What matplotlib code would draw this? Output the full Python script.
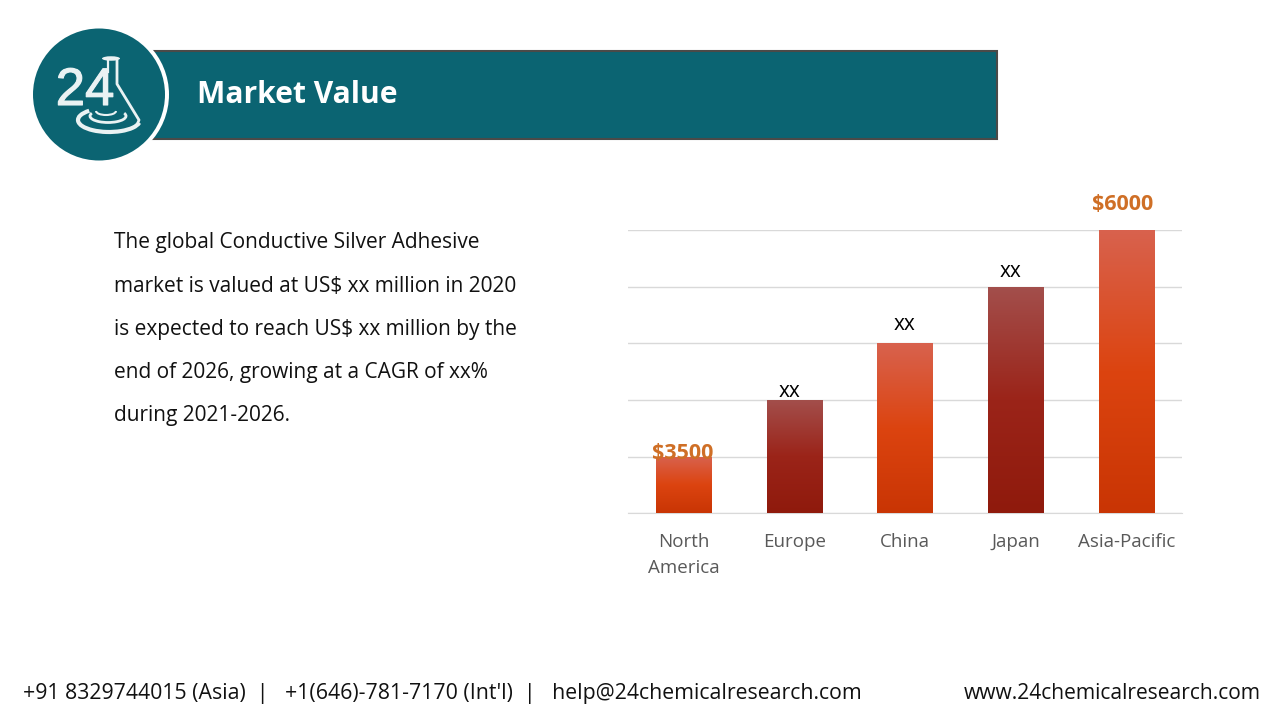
import numpy as np
import matplotlib
matplotlib.use("Agg")
import matplotlib.pyplot as plt
from matplotlib.colors import LinearSegmentedColormap
from matplotlib.patches import Circle, Rectangle, Ellipse, Arc
import matplotlib.patheffects as pe

# Chart data, heights read in gridline steps
categories = ["North\nAmerica", "Europe", "China", "Japan", "Asia-Pacific"]
values = [1, 2, 3, 4, 5]
bar_labels = ["$3500", "xx", "xx", "xx", "$6000"]
grid_levels = [0, 1, 2, 3, 4, 5]

body_lines = [
    "The global Conductive Silver Adhesive",
    "market is valued at US$ xx million in 2020",
    "is expected to reach US$ xx million by the",
    "end of 2026, growing at a CAGR of xx%",
    "during 2021-2026.",
]
body_baselines = [248, 292, 335, 378, 421]

TEAL = "#0B6472"
ORANGE_TEXT = "#CF6F26"

orange = LinearSegmentedColormap.from_list("orange", ["#D8624E", "#DC4410", "#C93504"])
dark = LinearSegmentedColormap.from_list("dark", ["#A34F4C", "#9B2419", "#8F1A0C"])
bar_cmaps = [orange, dark, orange, dark, orange]

plt.rcParams["font.family"] = ["Open Sans", "DejaVu Sans"]

fig = plt.figure(figsize=(12.8, 7.2), dpi=100, facecolor="white")

# Page layer in pixel coordinates
page = fig.add_axes([0, 0, 1, 1])
page.set_xlim(0, 1280)
page.set_ylim(720, 0)
page.axis("off")

page.add_patch(Rectangle((150, 50.5), 846.5, 88.5, facecolor=TEAL, edgecolor="#4A4A48", linewidth=1.5))
page.add_patch(Circle((99, 94.5), 70, facecolor="white", edgecolor="none", zorder=3))
page.add_patch(Circle((99, 94.5), 66, facecolor=TEAL, edgecolor="none", zorder=4))

# Logo: flask and ripples first, digits on top
logo_white = "#EAF2F3"
page.add_patch(Ellipse((111, 58.5), 18, 4.5, facecolor=logo_white, edgecolor="none", zorder=5))
page.plot([117, 117, 139, 137], [60, 84, 120, 125], color=logo_white, lw=2, zorder=5, solid_capstyle="round")
page.plot([108, 108], [60, 72], color=logo_white, lw=1.6, zorder=5)
page.add_patch(Arc((109, 120), 62, 24, theta1=5, theta2=205, color=logo_white, lw=3, zorder=5))
page.add_patch(Arc((108, 116), 36, 13, theta1=-10, theta2=190, color=logo_white, lw=2, zorder=5))
page.add_patch(Arc((106, 111), 20, 8, theta1=0, theta2=180, color=logo_white, lw=1.5, zorder=5))
logo_text = page.text(85, 91, "24", color=logo_white, fontsize=38, ha="center", va="center", zorder=6,
                      family=["Liberation Sans"])
logo_text.set_path_effects([pe.withStroke(linewidth=0.8, foreground=logo_white)])

page.text(197, 95, "Market Value", color="white", fontsize=21.6, fontweight="bold",
          ha="left", va="center", zorder=6)

for line, y in zip(body_lines, body_baselines):
    page.text(114, y, line, color="#111111", fontsize=15.05, ha="left", va="baseline")

page.text(23, 699, "+91 8329744015 (Asia)  |   +1(646)-781-7170 (Int'l)  |   help@24chemicalresearch.com",
          color="#111111", fontsize=15.3, ha="left", va="baseline")
page.text(1261, 699, "www.24chemicalresearch.com", color="#111111", fontsize=15.1, ha="right", va="baseline")

# Bar chart
ax = fig.add_axes([628 / 1280, 1 - 513.2 / 720, 554 / 1280, 283 / 720])
ax.patch.set_alpha(0)
x = np.arange(len(categories))
bars = ax.bar(x, values, width=0.5, color="none", edgecolor="none", zorder=3)

gradient = np.linspace(0, 1, 256).reshape(-1, 1)
for bar, cmap in zip(bars, bar_cmaps):
    left, width = bar.get_x(), bar.get_width()
    im = ax.imshow(gradient, cmap=cmap, aspect="auto", zorder=3,
                   extent=(left, left + width, 0, bar.get_height()))
    im.set_clip_path(bar)
ax.set_xlim(-0.5, 4.5)
ax.set_ylim(0, 5)

ax.set_yticks(grid_levels)
ax.set_yticklabels([])
ax.grid(axis="y", color="#D9D9D9", linewidth=1)
ax.set_axisbelow(True)
ax.tick_params(length=0)
for spine in ax.spines.values():
    spine.set_visible(False)
ax.spines["bottom"].set_visible(True)
ax.spines["bottom"].set_color("#D9D9D9")

ax.set_xticks(x)
ax.set_xticklabels(categories, color="#595959", fontsize=13.5, linespacing=1.55)
ax.tick_params(axis="x", pad=14.5)

# Value labels sit at slightly different offsets in the original
label_offsets = [-7, -2, 8, 5, 15]
label_dx = [-1, -5, -1, -5, -4]
for i, (val, lab) in enumerate(zip(values, bar_labels)):
    money = lab.startswith("$")
    ax.annotate(lab, (i, val), xytext=(label_dx[i] * 0.72, label_offsets[i] * 0.72),
                textcoords="offset points", ha="center", va="bottom", zorder=5,
                color=ORANGE_TEXT if money else "black",
                fontsize=15.5 if money else 15,
                fontweight="bold" if money else "normal")

fig.savefig("out.png", dpi=100)
